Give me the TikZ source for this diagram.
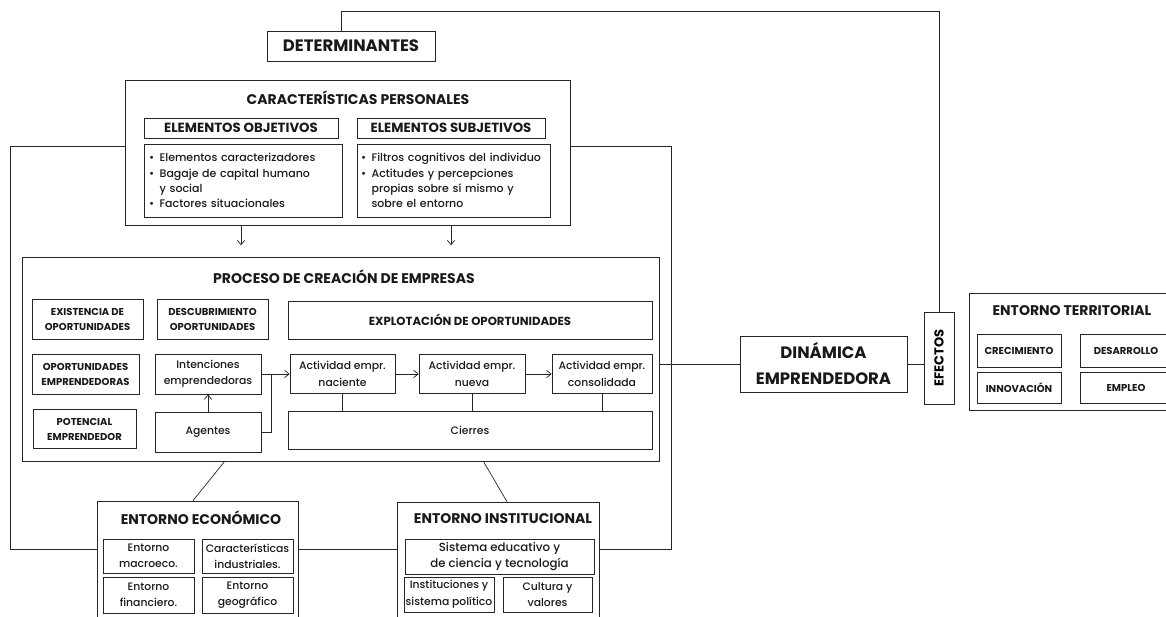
\documentclass[tikz,border=0pt]{standalone}
\usepackage{fontspec}
\setmainfont{Poppins}[UprightFont={* Medium}, BoldFont={* Bold}]
\usetikzlibrary{arrows.meta}
\newcommand\bul{\textbullet\enspace}
\newcommand\nobul{\hphantom{\textbullet\enspace}}

\begin{document}
\begin{tikzpicture}[x=1pt, y=-1pt,
  ln/.style={draw=black!85, line width=0.7pt},
  box/.style={ln, inner sep=0pt, align=center, text=black!90},
  titfont/.style={font=\bfseries\fontsize{14}{16}\selectfont},
  tit/.style={titfont, inner sep=0pt, text=black!90},
  hd/.style={box, font=\bfseries\fontsize{13.3}{15}\selectfont},
  sm/.style={box, font=\bfseries\fontsize{10}{15}\selectfont},
  tx/.style={box, font=\fontsize{10.8}{16.5}\selectfont}]
\def\al{1.6mm}
\def\aw{2.6mm}
\useasboundingbox (0,0) rectangle (1166,617);
\clip (0,0) rectangle (1166,617);
%\draw[help lines] (0,0) grid[step=50] (1166,617);

\node [box, minimum width=168pt, minimum height=30pt, font=\bfseries\fontsize{16.5}{18}\selectfont, name=det] at (351,46) {DETERMINANTES};
\node [box, minimum width=445pt, minimum height=145pt, name=carac] at (347.5,152.5) {};
\node [tit, name=caractit] at (358,98) {CARACTERÍSTICAS PERSONALES};
\node [hd, minimum width=194pt, minimum height=20pt, name=eobj] at (241,128) {ELEMENTOS OBJETIVOS};
\node [hd, minimum width=188pt, minimum height=20pt, name=esub] at (451,128) {ELEMENTOS SUBJETIVOS};
\node [tx, font=\fontsize{11}{15.3}\selectfont, align=left, inner xsep=5pt, text width=188pt, minimum height=73pt, name=cobj] at (243,180.5) {\bul Elementos caracterizadores\\\bul Bagaje de capital humano\\\nobul y social\\\bul Factores situacionales};
\node [tx, font=\fontsize{11}{15.3}\selectfont, align=left, inner xsep=4pt, text width=185pt, minimum height=73pt, name=csub] at (453.5,180.5) {\bul Filtros cognitivos del individuo\\\bul Actitudes y percepciones\\\nobul propias sobre sí mismo y\\\nobul sobre el entorno};
\draw [ln, -{Straight Barb[length=\al, width=\aw]}] (eobj |- carac.south) -- ++(0,20);
\draw [ln, -{Straight Barb[length=\al, width=\aw]}] (esub |- carac.south) -- ++(0,20);

\node [box, minimum width=637pt, minimum height=204pt, name=proc] at (340.5,359) {};
\node [tit, name=proctit] at (344,277) {PROCESO DE CREACIÓN DE EMPRESAS};
\node [sm, minimum width=111pt, minimum height=40pt, name=exist] at (87.5,319) {EXISTENCIA DE\\OPORTUNIDADES};
\node [sm, minimum width=111pt, minimum height=40pt, name=desc] at (212.5,319) {DESCUBRIMIENTO\\OPORTUNIDADES};
\node [sm, minimum width=107pt, minimum height=40pt, name=oport] at (85.5,374) {OPORTUNIDADES\\EMPRENDEDORAS};
\node [tx, minimum width=106pt, minimum height=40pt, name=inten] at (208,374) {Intenciones\\emprendedoras};
\node [sm, minimum width=103pt, minimum height=39pt, name=poten] at (84.5,429) {POTENCIAL\\EMPRENDEDOR};
\node [tx, minimum width=106pt, minimum height=40pt, name=agent] at (208,432) {Agentes};
\node [box, font=\bfseries\fontsize{11.7}{13}\selectfont, minimum width=364pt, minimum height=38pt, name=explot] at (470,320) {EXPLOTACIÓN DE OPORTUNIDADES};
\node [tx, minimum width=105pt, minimum height=39pt, name=nac] at (342.5,374) {Actividad empr.\\naciente};
\node [tx, minimum width=106pt, minimum height=39pt, name=nueva] at (472,374) {Actividad empr.\\nueva};
\node [tx, minimum width=100pt, minimum height=39pt, name=consol] at (602,374) {Actividad empr.\\consolidada};
\node [tx, minimum width=364pt, minimum height=38pt, name=cierr] at (470,430) {Cierres};
\coordinate (jn) at (271,374);
\draw [ln, -{Straight Barb[length=\al, width=\aw]}] (agent) -- (inten);
\draw [ln] (inten) -- (jn);
\draw [ln] (agent) -| (jn);
\draw [ln, -{Straight Barb[length=\al, width=\aw]}] (jn) -- (nac);
\draw [ln, -{Straight Barb[length=\al, width=\aw]}] (nac) -- (nueva);
\draw [ln, -{Straight Barb[length=\al, width=\aw]}] (nueva) -- (consol);
\draw [ln] (nac) -- (nac |- cierr.north);
\draw [ln] (nueva) -- (nueva |- cierr.north);
\draw [ln] (consol) -- (consol |- cierr.north);

\node [box, minimum width=167pt, minimum height=56pt, font=\bfseries\fontsize{16.5}{26}\selectfont, name=din] at (823.5,364) {DINÁMICA\\EMPRENDEDORA};
\node [box, minimum width=30pt, minimum height=92pt, name=efect] at (939,358) {};
\node [rotate=90, inner sep=0pt, font=\bfseries\fontsize{13}{15}\selectfont, name=efecttxt] at (efect) {EFECTOS};
\draw [ln] (din) -- (din -| proc.east);
\draw [ln] (din) -- (din -| efect.west);
\draw [ln] (efect) |- ([xshift=-10pt, yshift=19pt]det.north) -- ([xshift=-10pt]det.north);

\node [box, minimum width=211pt, minimum height=117pt, name=terr] at (1074.5,351.5) {};
\node [tit, name=terrtit] at (1072,311) {ENTORNO TERRITORIAL};
\node [sm, minimum width=84pt, minimum height=33pt, name=crec] at (1019,350.5) {CRECIMIENTO};
\node [sm, minimum width=92pt, minimum height=33pt, name=desar] at (1126,350.5) {DESARROLLO};
\node [sm, minimum width=84pt, minimum height=31pt, name=innov] at (1019,387.5) {INNOVACIÓN};
\node [sm, minimum width=92pt, minimum height=31pt, name=empl] at (1126,387.5) {EMPLEO};

\node [box, minimum width=201pt, minimum height=129pt, name=econ] at (197.5,565.5) {};
\node [tit, name=econtit] at (201,518) {ENTORNO ECONÓMICO};
\node [tx, minimum width=91pt, minimum height=34pt, name=macro] at (148.5,556) {Entorno\\macroeco.};
\node [tx, minimum width=91pt, minimum height=34pt, name=indus] at (247.5,556) {Características\\industriales.};
\node [tx, minimum width=91pt, minimum height=36pt, name=finan] at (148.5,595) {Entorno\\financiero.};
\node [tx, minimum width=91pt, minimum height=36pt, name=geogr] at (247.5,595) {Entorno\\geográfico};

\node [box, minimum width=202pt, minimum height=128pt, name=inst] at (498,566) {};
\node [tit, name=insttit] at (503,519) {ENTORNO INSTITUCIONAL};
\node [tx, font=\fontsize{11.8}{16.5}\selectfont, minimum width=189pt, minimum height=35pt, name=educ] at (499.5,556.5) {Sistema educativo y\\de ciencia y tecnología};
\node [tx, minimum width=90pt, minimum height=35pt, name=instpol] at (449,594.5) {Instituciones y\\sistema político};
\node [tx, minimum width=89pt, minimum height=35pt, name=cult] at (547.5,594.5) {Cultura y\\valores};

\draw [ln] ([xshift=203pt]proc.south west) -- ([xshift=-4.5pt]econ.north);
\draw [ln] ([xshift=-176pt]proc.south east) -- ([xshift=9pt]inst.north);
\coordinate (lup) at (10,146);
\coordinate (ldn) at (10,549);
\coordinate (rup) at (671,146);
\coordinate (rdn) at (671,549);
\draw [ln] (carac.west |- lup) -- (lup) -- (ldn) -- (econ.west |- ldn);
\draw [ln] (econ.east |- ldn) -- (inst.west |- ldn);
\draw [ln] (inst.east |- rdn) -- (rdn) -- (rup) -- (carac.east |- rup);
\end{tikzpicture}
\end{document}
